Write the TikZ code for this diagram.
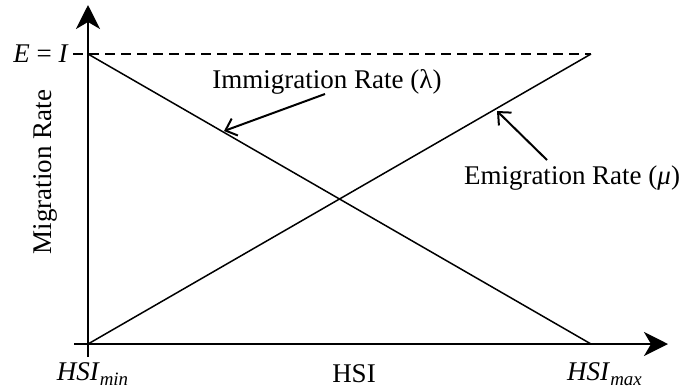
\documentclass[tikz,border=0pt]{standalone}
\usepackage{fontspec}
\setmainfont{Liberation Serif}
\usetikzlibrary{arrows.meta, positioning}

\begin{document}
\begin{tikzpicture}[x=0.5pt, y=0.5pt, every node/.style={font=\fontsize{13.5}{16}\selectfont, inner sep=1pt},
  axis/.style={line width=1.1pt, -{Stealth[length=12pt, width=12pt, inset=3.5pt]}},
  rate/.style={line width=0.75pt},
  pointer/.style={line width=1pt, -{Straight Barb[length=5pt, width=9pt]}}]
  \useasboundingbox (-88,-44) rectangle (592,344);

  % Axes
  \coordinate (origin) at (0,0);
  \coordinate (ybot) at (0,-13);
  \coordinate (ytop) at (0,339);
  \coordinate (xleft) at (-14,0);
  \coordinate (xtip) at (580,0);
  \draw[axis] (ybot) -- (ytop);
  \draw[axis] (xleft) -- (xtip);

  % Rate lines
  \coordinate (topleft) at (0,290);
  \coordinate (topright) at (503,290);
  \coordinate (botright) at (503,0);
  \coordinate (dashstart) at (-15,290);
  \draw[dashed, line width=0.6pt, dash pattern=on 5pt off 3pt] (dashstart) -- (topright);
  \draw[rate] (topleft) -- (botright);
  \draw[rate] (origin) -- (topright);

  % Labels
  \node (ei) [anchor=east] at (-17,290) {\textit{E} = \textit{I}};
  \node (mig) [rotate=90] at (-43,172) {Migration Rate};
  \node (hsimin) at (5,-30) {\textit{HSI}\textsubscript{\textit{min}}};
  \node (hsi) at (266,-30) {HSI};
  \node (hsimax) at (517,-30) {\textit{HSI}\textsubscript{\textit{max}}};
  \node (imm) at (239,262) {Immigration Rate (λ)};
  \node (emi) at (484,166) {Emigration Rate (\textit{μ})};

  % Pointers
  \coordinate (immfrom) at (237,250);
  \coordinate (immtip) at (136,213);
  \coordinate (emifrom) at (459,184);
  \coordinate (emitip) at (409,233);
  \draw[pointer] (immfrom) -- (immtip);
  \draw[pointer] (emifrom) -- (emitip);
\end{tikzpicture}
\end{document}
